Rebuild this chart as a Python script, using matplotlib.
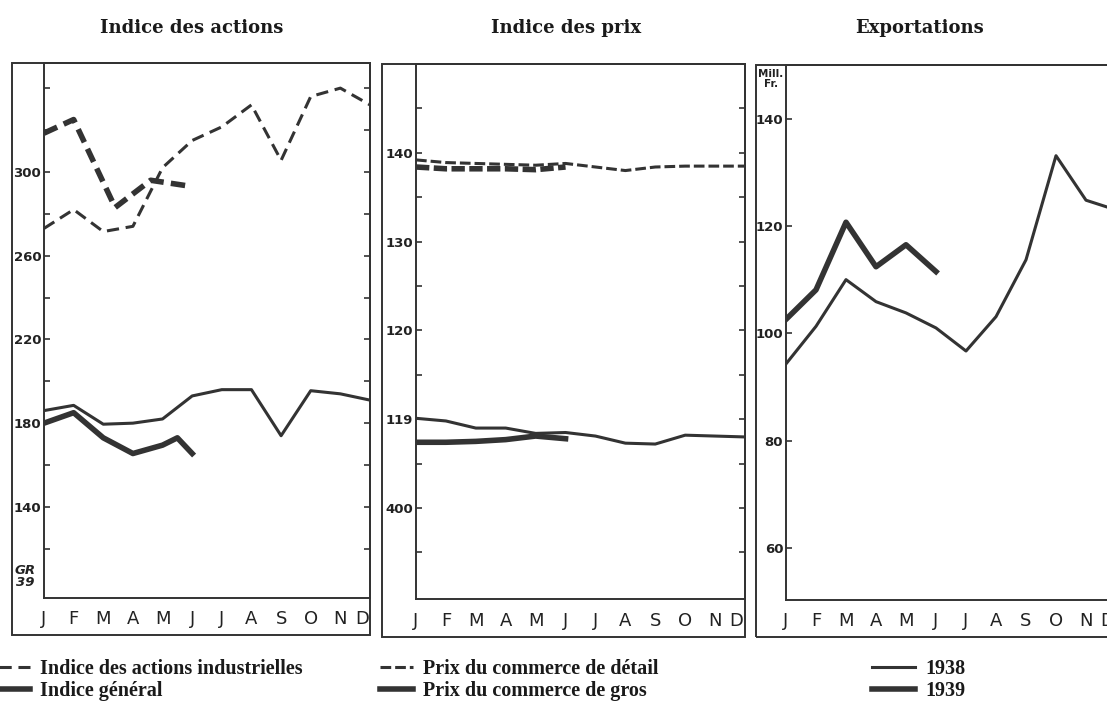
import numpy as np
import matplotlib.pyplot as plt
from matplotlib.patches import Rectangle
from matplotlib.lines import Line2D

W, H = 1107, 711
INK = '#333333'

months = ['J', 'F', 'M', 'A', 'M', 'J', 'J', 'A', 'S', 'O', 'N', 'D']
m38 = np.arange(12)

# Indice des actions
actions_ind_38 = [273, 282, 271.5, 274, 302, 315, 321.5, 332, 305.5, 336, 340, 332]
actions_ind_39_x = [0, 1, 2.4, 3.6, 5]
actions_ind_39 = [318.5, 325, 283, 296, 293]
actions_gen_38 = [186, 188.5, 179.5, 180, 182, 193, 196, 196, 174, 195.5, 194, 191]
actions_gen_39_x = [0, 1, 2, 3, 4, 4.5, 5]
actions_gen_39 = [180, 185, 173, 165.5, 169.5, 173, 165.5]

# Indice des prix
retail_38 = [139.2, 138.9, 138.8, 138.7, 138.6, 138.8, 138.4, 138.0, 138.4, 138.5, 138.5, 138.5]
retail_39 = [138.4, 138.2, 138.2, 138.2, 138.1, 138.4]
wholesale_38 = [110.1, 109.8, 109.0, 109.0, 108.4, 108.5, 108.1, 107.3, 107.2, 108.2, 108.1, 108.0]
wholesale_39 = [107.4, 107.4, 107.5, 107.7, 108.1, 107.8]

# Exportations (Mill. Fr.)
exp_38 = [94.3, 101.3, 110.0, 105.9, 103.8, 101.0, 96.7, 103.1, 113.7, 133.1, 124.8, 123.0]
exp_39 = [102.6, 108.1, 120.7, 112.4, 116.5, 111.5]

titles = ['Indice des actions', 'Indice des prix', 'Exportations']

fig = plt.figure(figsize=(W / 100, H / 100), dpi=100)
fig.patch.set_facecolor('white')

serif = ['Liberation Serif', 'DejaVu Serif']
hand = ['DejaVu Sans']


def px(x, y):
    return x / W, 1 - y / H


def make_panel(outer_left, inner_left, right, top, inner_bottom, outer_bottom):
    x0, y0 = px(inner_left, inner_bottom)
    ax = fig.add_axes([x0, y0, (right - inner_left) / W, (inner_bottom - top) / H])
    for s in ax.spines.values():
        s.set_linewidth(1.4)
        s.set_color(INK)
    fig.add_artist(Rectangle(px(outer_left, outer_bottom), (right - outer_left) / W,
                             (outer_bottom - top) / H, fill=False, lw=1.4,
                             edgecolor=INK, transform=fig.transFigure))
    ax.set_xlim(0, 11)
    # the lettering of the last month sits a bit inside the frame
    ax.set_xticks(list(range(11)) + [10.72], months, fontfamily=hand, fontsize=13,
                  color='#222222')
    ax.set_xticks(range(1, 11), minor=True)
    ax.tick_params(axis='x', which='major', length=0, pad=9)
    ax.tick_params(axis='x', which='minor', direction='in', length=9.5, width=1.3, color=INK)
    ax.tick_params(axis='y', which='both', direction='in', length=4.5, width=1.2,
                   color=INK, right=True, pad=2, labelsize=9.5, labelcolor='#222222')
    return ax


thin = dict(color=INK, lw=2.2)
thick = dict(color=INK, lw=4.0)

# Panel 1
ax1 = make_panel(12, 44, 370, 63, 598, 635)
ax1.plot(m38, actions_ind_38, dashes=(4, 2.2), **thin)
ax1.plot(actions_ind_39_x, actions_ind_39, dashes=(2.6, 1.3), **thick)
ax1.plot(m38, actions_gen_38, **thin)
ax1.plot(actions_gen_39_x, actions_gen_39, **thick)
ax1.set_ylim(96.5, 352)
ax1.set_yticks([140, 180, 220, 260, 300], ['140', '180', '220', '260', '300'],
               fontweight='bold')
ax1.set_yticks([120, 160, 200, 240, 280, 320, 340], minor=True)
fig.text(25 / W, 1 - 577 / H, 'GR\n39', ha='center', va='center', fontsize=9.5,
         style='italic', fontweight='bold', linespacing=0.9, color='#222222')

# Panel 2
ax2 = make_panel(382, 416, 745, 64, 599, 637)
ax2.plot(m38, retail_38, dashes=(3.5, 1.3), **thin)
ax2.plot(m38[:6], retail_39, dashes=(2.4, 0.8), **thick)
ax2.plot(m38, wholesale_38, **thin)
ax2.plot(m38[:6], wholesale_39, **thick)
ax2.set_ylim(89.75, 150)
ax2.set_yticks([100, 110, 120, 130, 140], ['400', '119', '120', '130', '140'],
               fontweight='bold')
ax2.set_yticks([95, 105, 115, 125, 135, 145], minor=True)

# Panel 3 (cut off at the right edge of the page)
ax3 = make_panel(756, 786, 1116, 65, 600, 637)
ax3.plot(m38, exp_38, **thin)
ax3.plot(m38[:6], exp_39, **thick)
ax3.set_ylim(50.3, 150)
ax3.set_yticks([60, 80, 100, 120, 140], ['60', '80', '100', '120', '140'],
               fontweight='bold')
fig.text(771 / W, 1 - 79 / H, 'Mill.\nFr.', ha='center', va='center', fontsize=7.5,
         fontweight='bold', linespacing=0.9, color='#222222')

for title, cx in zip(titles, [192, 566, 920]):
    fig.text(cx / W, 1 - 28 / H, title, ha='center', va='center', fontsize=13,
             fontweight='bold', fontfamily=['DejaVu Serif'], color='#1a1a1a')

# Legend
leg_kw = dict(frameon=False, loc='upper left', borderpad=0, borderaxespad=0,
              labelspacing=0.08, handletextpad=0.5, labelcolor='#1a1a1a',
              prop=dict(family=serif, weight='bold', size=14.5))
leg1 = fig.legend([Line2D([], [], dashes=(4, 2.2), **thin), Line2D([], [], **thick)],
                  ['Indice des actions industrielles', 'Indice général'],
                  bbox_to_anchor=px(-6, 659), handlelength=1.8, **leg_kw)
leg2 = fig.legend([Line2D([], [], dashes=(3.5, 1.3), **thin), Line2D([], [], **thick)],
                  ['Prix du commerce de détail', 'Prix du commerce de gros'],
                  bbox_to_anchor=px(380, 659), handlelength=1.65, **leg_kw)
leg3 = fig.legend([Line2D([], [], **thin), Line2D([], [], **thick)],
                  ['1938', '1939'],
                  bbox_to_anchor=px(872, 659), handlelength=2.15, **leg_kw)

fig.savefig('out.png', dpi=100, facecolor='white')
